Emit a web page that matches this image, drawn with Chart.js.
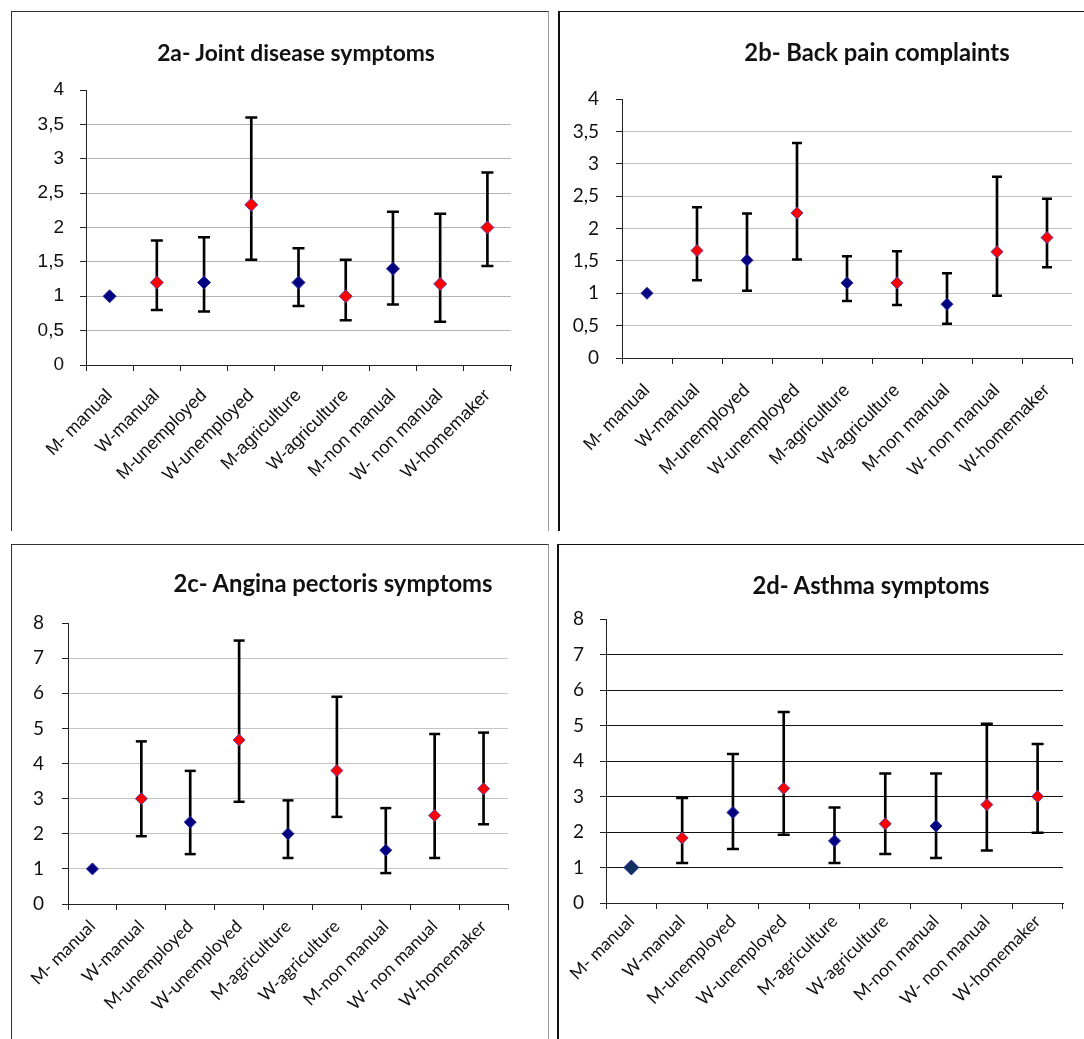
<!DOCTYPE html>
<html>
<head>
<meta charset="utf-8">
<script src="https://cdn.jsdelivr.net/npm/chart.js@4.4.0/dist/chart.umd.min.js"></script>
<style>
html, body { margin: 0; padding: 0; background: #fff; overflow: hidden; width: 1084px; height: 1039px; }
.panel { position: absolute; box-sizing: border-box; background: #fff; }
.panel canvas { position: absolute; left: 0; top: 0; }
.title { position: absolute; font-family: Lato, "Open Sans", sans-serif; font-weight: bold; font-size: 23.8px;
         color: #111; white-space: nowrap; transform: translate(-50%, -50%); }
</style>
</head>
<body>
<div class="panel" style="left:11px;top:11px;width:538px;height:520px;border:1px solid #333;border-right-color:#999;border-bottom:none">
  <canvas id="chartA" width="536" height="499"></canvas>
</div>
<div class="panel" style="left:558px;top:11px;width:560px;height:520px;border:1px solid #111;border-left-width:2px;border-bottom:none">
  <canvas id="chartB" width="525" height="499"></canvas>
</div>
<div class="panel" style="left:11px;top:544px;width:538px;height:520px;border:1px solid #333;border-right-color:#999">
  <canvas id="chartC" width="536" height="494"></canvas>
</div>
<div class="panel" style="left:557px;top:544px;width:560px;height:520px;border:1px solid #111;border-left-width:2px">
  <canvas id="chartD" width="526" height="494"></canvas>
</div>

<div class="title" style="left:296px;top:52px;font-size:22.8px">2a- Joint disease symptoms</div>
<div class="title" style="left:877px;top:52px">2b- Back pain complaints</div>
<div class="title" style="left:333px;top:583px">2c- Angina pectoris symptoms</div>
<div class="title" style="left:871px;top:585px">2d- Asthma symptoms</div>

<script>
const categories = ["M- manual", "W-manual", "M-unemployed", "W-unemployed", "M-agriculture",
                    "W-agriculture", "M-non manual", "W- non manual", "W-homemaker"];

// 2a
const jointMean = [1, 1.2, 1.2, 2.33, 1.2, 1.0, 1.4, 1.18, 2.0];
const jointLow  = [null, 0.8, 0.78, 1.53, 0.86, 0.65, 0.88, 0.63, 1.44];
const jointHigh = [null, 1.81, 1.86, 3.6, 1.7, 1.53, 2.23, 2.2, 2.8];
const jointTicks = [0, 0.5, 1, 1.5, 2, 2.5, 3, 3.5, 4];

// 2b
const backMean = [1, 1.66, 1.51, 2.24, 1.16, 1.16, 0.83, 1.64, 1.86];
const backLow  = [null, 1.2, 1.04, 1.52, 0.88, 0.82, 0.53, 0.96, 1.4];
const backHigh = [null, 2.33, 2.23, 3.32, 1.57, 1.65, 1.31, 2.8, 2.46];
const backTicks = [0, 0.5, 1, 1.5, 2, 2.5, 3, 3.5, 4];

// 2c
const anginaMean = [1, 3.0, 2.33, 4.67, 2.0, 3.8, 1.53, 2.52, 3.28];
const anginaLow  = [null, 1.93, 1.42, 2.91, 1.31, 2.48, 0.88, 1.31, 2.27];
const anginaHigh = [null, 4.63, 3.79, 7.5, 2.95, 5.9, 2.73, 4.84, 4.88];
const anginaTicks = [0, 1, 2, 3, 4, 5, 6, 7, 8];

// 2d
const asthmaMean = [1, 1.83, 2.55, 3.23, 1.75, 2.23, 2.17, 2.77, 3.0];
const asthmaLow  = [null, 1.13, 1.52, 1.92, 1.13, 1.38, 1.27, 1.48, 1.98];
const asthmaHigh = [null, 2.96, 4.2, 5.38, 2.69, 3.65, 3.65, 5.05, 4.48];
const asthmaTicks = [0, 1, 2, 3, 4, 5, 6, 7, 8];

const ARIAL = "'Liberation Sans', Arial, sans-serif";
const CALIBRI = "Lato, 'Open Sans', sans-serif";

function makeChart(id, mean, low, high, yTicks, st) {
    const yMax = yTicks[yTicks.length - 1];
    const men = mean.map((v, i) => categories[i][0] === "M" ? v : null);
    const women = mean.map((v, i) => categories[i][0] === "W" ? v : null);
    const bars = low.map((v, i) => v == null ? null : [v, high[i]]);

    return new Chart(document.getElementById(id), {
        type: "bar",
        data: {
            labels: categories,
            datasets: [
                {
                    type: "line", data: men, showLine: false, order: 0,
                    pointStyle: "rectRot",
                    pointRadius: ctx => (ctx.dataIndex === 0 && st.firstR) ? st.firstR : st.markR,
                    pointBackgroundColor: ctx => (ctx.dataIndex === 0 && st.firstColor) ? st.firstColor : "#000080",
                    pointBorderColor: "#2a2a9a", pointBorderWidth: 1
                },
                {
                    type: "line", data: women, showLine: false, order: 0,
                    pointStyle: "rectRot", pointRadius: st.markR,
                    pointBackgroundColor: "#ff0000", pointBorderColor: "#5a3aa0", pointBorderWidth: 1
                },
                {
                    type: "line", data: high, showLine: false, order: 1,
                    pointStyle: "line", pointRadius: st.capR,
                    pointBorderColor: "#000", pointBorderWidth: 2.5
                },
                {
                    type: "line", data: low, showLine: false, order: 1,
                    pointStyle: "line", pointRadius: st.capR,
                    pointBorderColor: "#000", pointBorderWidth: 2.5
                },
                {
                    type: "bar", data: bars, order: 2,
                    backgroundColor: "#000", barThickness: 2
                }
            ]
        },
        options: {
            responsive: false,
            animation: false,
            events: [],
            layout: { padding: { top: st.top, right: st.right, left: 0, bottom: 0 } },
            plugins: { legend: { display: false }, tooltip: { enabled: false }, title: { display: false } },
            scales: {
                x: {
                    type: "category",
                    offset: true,
                    grid: { display: true, drawOnChartArea: false, drawTicks: true, tickLength: 6,
                            offset: true, color: "#222", tickColor: "#222" },
                    border: { display: true, color: "#222", width: 1 },
                    ticks: { autoSkip: false, minRotation: 45, maxRotation: 45, padding: st.xPad,
                             color: "#111", font: { family: st.xFont, size: st.xSize } },
                    afterFit: s => { s.height = st.xH; }
                },
                y: {
                    min: 0, max: yMax,
                    afterBuildTicks: s => { s.ticks = yTicks.map(v => ({ value: v })); },
                    grid: {
                        color: ctx => (ctx.tick && ctx.tick.value === yMax) ? "rgba(0,0,0,0)" : st.gridColor,
                        tickColor: "#222", tickLength: 6, drawTicks: true, lineWidth: 1
                    },
                    border: { display: true, color: "#222", width: 1 },
                    ticks: { padding: st.yPad, color: "#111", font: { family: st.yFont, size: st.ySize },
                             callback: v => String(v).replace(".", ",") },
                    afterFit: s => { s.width = st.yW; }
                }
            }
        }
    });
}

makeChart("chartA", jointMean, jointLow, jointHigh, jointTicks, {
    top: 78, right: 37, yW: 74, xH: 146, xPad: 14, yPad: 16,
    xFont: ARIAL, xSize: 18, yFont: ARIAL, ySize: 19,
    gridColor: "#b4b4b4", markR: 6.5, capR: 6
});
makeChart("chartB", backMean, backLow, backHigh, backTicks, {
    top: 87, right: 13, yW: 62, xH: 153, xPad: 16, yPad: 17,
    xFont: ARIAL, xSize: 18, yFont: CALIBRI, ySize: 19,
    gridColor: "#c0c0c0", markR: 6, capR: 5
});
makeChart("chartC", anginaMean, anginaLow, anginaHigh, anginaTicks, {
    top: 78, right: 40, yW: 56, xH: 135, xPad: 6, yPad: 18,
    xFont: CALIBRI, xSize: 17.5, yFont: CALIBRI, ySize: 19,
    gridColor: "#c4c4c4", markR: 6, capR: 5.5
});
makeChart("chartD", asthmaMean, asthmaLow, asthmaHigh, asthmaTicks, {
    top: 74, right: 22, yW: 47, xH: 136, xPad: 2, yPad: 16,
    xFont: CALIBRI, xSize: 17.5, yFont: CALIBRI, ySize: 19,
    gridColor: "#111", markR: 6, capR: 6, firstR: 7.5, firstColor: "#10305f"
});
</script>
</body>
</html>
